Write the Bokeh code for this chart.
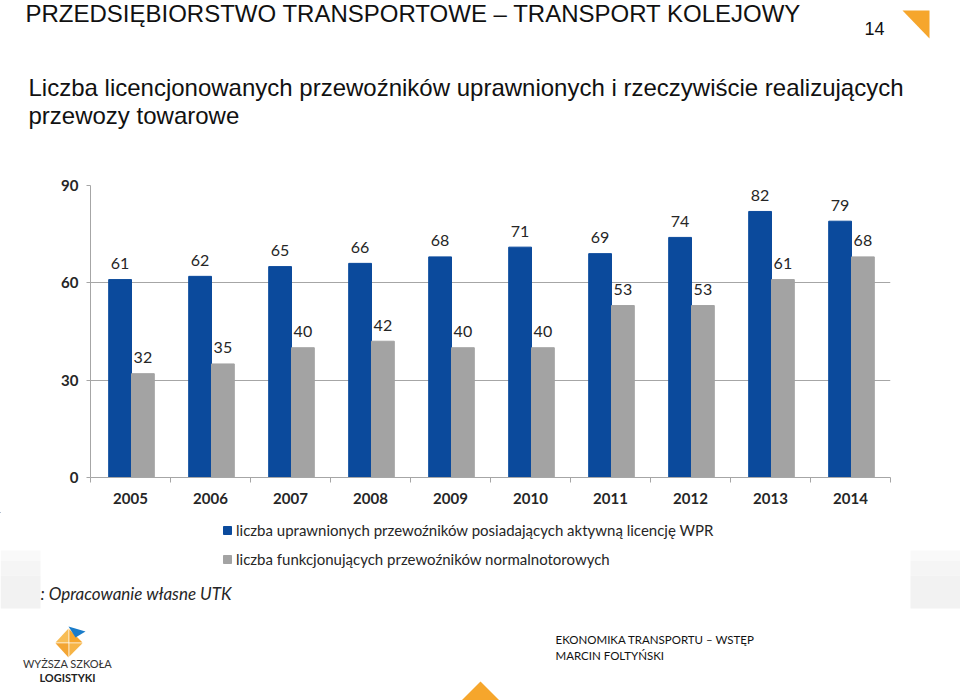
from bokeh.plotting import figure
from bokeh.models import Range1d, FixedTicker, Label, PolyAnnotation, BoxAnnotation, ColumnDataSource, Legend, LegendItem
from bokeh.layouts import column
from bokeh.embed import file_html
from bokeh.resources import INLINE
from bokeh.core.properties import value

# ---------------- data ----------------
years = ["2005", "2006", "2007", "2008", "2009", "2010", "2011", "2012", "2013", "2014"]
licensed = [61, 62, 65, 66, 68, 71, 69, 74, 82, 79]
operating = [32, 35, 40, 42, 40, 40, 53, 53, 61, 68]
series_names = ["liczba uprawnionych przewoźników posiadających aktywną licencję WPR",
                "liczba funkcjonujących przewoźników normalnotorowych"]
y_ticks = [0, 30, 60, 90]

title_text = "PRZEDSIĘBIORSTWO TRANSPORTOWE – TRANSPORT KOLEJOWY"
subtitle_lines = ["Liczba licencjonowanych przewoźników uprawnionych i rzeczywiście realizujących",
                  "przewozy towarowe"]
page_number = "14"
source_text = ": Opracowanie własne UTK"
footer_lines = ["EKONOMIKA TRANSPORTU – WSTĘP", "MARCIN FOLTYŃSKI"]
logo_lines = ["WYŻSZA SZKOŁA", "LOGISTYKI"]

BLUE = "#0b4a9c"
GREY = "#a3a3a3"
ORANGE = "#f6a62c"
TXT = "#262626"
CHART_FONT = "Lato"
W = 960

HEAD_TOP, HEAD_BOT = 0, 165
CHART_BOT = 512
FOOT_BOT = 700
FT, FB, FL, FR = 185, 477, 90, 890


def deco_fig(top, bot):
    f = figure(width=W, height=bot - top, output_backend="svg", toolbar_location=None,
               x_range=Range1d(0, W), y_range=Range1d(bot, top),
               x_axis_location=None, y_axis_location=None, frame_align=False,
               min_border=0, min_border_left=0, min_border_right=0,
               min_border_top=0, min_border_bottom=0)
    f.grid.visible = False
    f.outline_line_color = None
    f.background_fill_color = "white"
    f.border_fill_color = "white"
    return f


def lbl(f, X, Y, text, font, size, style="normal", color="#111111", align="left"):
    f.add_layout(Label(x=X, y=Y, text=text, text_font=font, text_font_size=size,
                       text_font_style=style, text_color=color, text_align=align,
                       text_baseline="middle"))


def poly(f, pts, color):
    f.add_layout(PolyAnnotation(xs=[a for a, b in pts], ys=[b for a, b in pts],
                                fill_color=color, fill_alpha=1, line_color=None))


# ---------------- header ----------------
head = deco_fig(HEAD_TOP, HEAD_BOT)
lbl(head, 25, 13, title_text, "Liberation Sans", "24px")
lbl(head, 864, 28, page_number, "Liberation Sans", "18px")
lbl(head, 28, 87, subtitle_lines[0], "Liberation Sans", "24px")
lbl(head, 28, 115, subtitle_lines[1], "Liberation Sans", "24px")
poly(head, [(902, 10), (929, 10), (929, 38)], ORANGE)

# ---------------- chart ----------------
p = figure(width=W, height=CHART_BOT - HEAD_BOT, output_backend="svg", toolbar_location=None,
           x_range=Range1d(0, len(years)), y_range=Range1d(0, 90), frame_align=False,
           min_border_left=FL, min_border_right=W - FR,
           min_border_top=FT - HEAD_BOT, min_border_bottom=CHART_BOT - FB)
p.outline_line_color = None
p.background_fill_color = "white"
p.border_fill_color = "white"

idx = list(range(len(years)))
src = ColumnDataSource(dict(
    x1=[i + 0.37 for i in idx], x2=[i + 0.655 for i in idx],
    lic=licensed, op=operating,
    lic_t=[str(v) for v in licensed], op_t=[str(v) for v in operating]))

p.vbar(x="x1", top="lic", bottom=0, width=0.285, source=src, fill_color=BLUE, line_color=BLUE)
p.vbar(x="x2", top="op", bottom=0, width=0.285, source=src, fill_color=GREY, line_color=GREY)

for xcol, ycol, tcol in (("x1", "lic", "lic_t"), ("x2", "op", "op_t")):
    p.text(x=xcol, y=ycol, text=tcol, source=src, text_align="center",
           text_baseline="middle", y_offset=-16, text_font=value(CHART_FONT),
           text_font_size="16px", text_color=TXT)

xa = p.xaxis[0]
xa.ticker = FixedTicker(ticks=[i + 0.5 for i in idx], minor_ticks=list(range(len(years) + 1)))
xa.major_label_overrides = {i + 0.5: y for i, y in zip(idx, years)}
xa.major_tick_out = 0
xa.major_tick_in = 0
xa.minor_tick_out = 5
xa.minor_tick_in = 0
xa.minor_tick_line_color = "#a6a6a6"
xa.axis_line_color = "#a6a6a6"
xa.major_label_standoff = 10
xa.major_label_text_font = CHART_FONT
xa.major_label_text_font_size = "15px"
xa.major_label_text_font_style = "bold"
xa.major_label_text_color = TXT

ya = p.yaxis[0]
ya.ticker = FixedTicker(ticks=y_ticks, minor_ticks=[])
ya.major_tick_out = 4
ya.major_tick_in = 0
ya.major_tick_line_color = "#a6a6a6"
ya.axis_line_color = "#a6a6a6"
ya.major_label_standoff = 8
ya.major_label_text_font = CHART_FONT
ya.major_label_text_font_size = "15px"
ya.major_label_text_font_style = "bold"
ya.major_label_text_color = TXT

p.xgrid.grid_line_color = None
p.ygrid.grid_line_color = "#a6a6a6"

# ---------------- footer ----------------
foot = deco_fig(CHART_BOT, FOOT_BOT)
for l, r in ((0, 40), (910, 960)):
    for t, b, c in ((550, 560, "#f9f9f9"), (560, 575, "#f5f5f5"), (575, 608, "#f2f2f2")):
        foot.add_layout(BoxAnnotation(left=l, right=r, top=t, bottom=b,
                                      fill_color=c, fill_alpha=1, line_color=None,
                                      level="underlay"))
# legend proxies (kept outside the visible range)
r1 = foot.vbar(x=[-500], top=[-500], bottom=-501, width=1, fill_color=BLUE, line_color=BLUE)
r2 = foot.vbar(x=[-500], top=[-500], bottom=-501, width=1, fill_color=GREY, line_color=GREY)
lg = Legend(items=[LegendItem(label=series_names[0], renderers=[r1]),
                   LegendItem(label=series_names[1], renderers=[r2])],
            location=(222, FOOT_BOT - 569), orientation="vertical",
            glyph_width=10, glyph_height=10, label_standoff=4, spacing=9,
            padding=0, margin=0, border_line_color=None, background_fill_alpha=0,
            label_text_font=CHART_FONT, label_text_font_size="15px",
            label_text_color=TXT, label_height=20)
foot.add_layout(lg)

lbl(foot, 40, 593, source_text, CHART_FONT, "17px", style="italic", color=TXT)
lbl(foot, 555, 639, footer_lines[0], CHART_FONT, "11.5px")
lbl(foot, 555, 655, footer_lines[1], CHART_FONT, "11.5px")
lbl(foot, 67, 663, logo_lines[0], CHART_FONT, "11px", color="#333333", align="center")
lbl(foot, 67, 677, logo_lines[1], CHART_FONT, "11px", style="bold", color="#222222", align="center")

poly(foot, [(480, 681), (505, 706), (455, 706)], ORANGE)
poly(foot, [(68, 628), (68, 642), (55, 642)], "#f8bd55")
poly(foot, [(68.8, 628.8), (82, 642), (68.8, 642)], ORANGE)
poly(foot, [(55, 642.8), (68, 642.8), (68, 657)], "#f3a533")
poly(foot, [(68.8, 642.8), (82, 642.8), (68.8, 656)], "#f6b446")
poly(foot, [(68, 626), (85, 631), (75, 637)], "#1a7cc9")

page = column(head, p, foot, spacing=0)
open("out.html", "w").write(file_html(page, INLINE))
